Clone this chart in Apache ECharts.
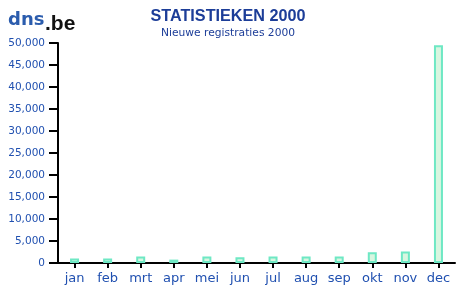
<!DOCTYPE html>
<html><head><meta charset="utf-8">
<script src="https://cdn.jsdelivr.net/npm/echarts@6/dist/echarts.min.js"></script>
<style>html,body{margin:0;padding:0;background:#fff}#c{width:459px;height:287px}</style>
</head><body><div id="c"></div>
<script>
const categories = ['jan','feb','mrt','apr','mei','jun','jul','aug','sep','okt','nov','dec'];
const registraties = [1000, 1000, 1500, 770, 1500, 1300, 1500, 1500, 1500, 2430, 2600, 49500];
const yTicks = { min: 0, max: 50000, interval: 5000 };
const titleText = 'STATISTIEKEN 2000';
const subtitleText = 'Nieuwe registraties 2000';

const chart = echarts.init(document.getElementById('c'), null, {renderer:'canvas'});
const font = 'Verdana, "DejaVu Sans", sans-serif';
chart.setOption({
  animation: false,
  title: {
    text: titleText, subtext: subtitleText, left: 223, textAlign: 'center', top: 4, itemGap: 3,
    textStyle: {fontFamily: 'Arial, "Liberation Sans", sans-serif', fontWeight: 'bold', fontSize: 16.2, color: '#1c3d98'},
    subtextStyle: {fontFamily: font, fontSize: 10.7, color: '#1c3d98'}
  },
  graphic: [
    {type:'text', left: 8, top: 11, style:{text:'dns', fontFamily:'"DejaVu Sans", sans-serif', fontWeight:'bold', fontSize: 18, fill:'#2b5cad'}},
    {type:'text', left: 45, top: 14, style:{text:'.be', fontFamily:'"Liberation Sans", Arial, sans-serif', fontWeight:'bold', fontSize: 21, fill:'#111'}}
  ],
  grid: {left: 58, right: 4, top: 43, bottom: 24, containLabel: false},
  xAxis: {
    type: 'category', data: categories,
    axisLine: {lineStyle: {color: '#000', width: 2}},
    axisTick: {show: true, alignWithLabel: true, length: 5, lineStyle: {color:'#000', width: 2}},
    axisLabel: {fontFamily: font, fontSize: 13, color: '#2050b0', margin: 9}
  },
  yAxis: {
    type: 'value', min: yTicks.min, max: yTicks.max, interval: yTicks.interval,
    axisLine: {show: true, lineStyle: {color: '#000', width: 2}},
    axisTick: {show: true, length: 9, lineStyle: {color:'#000', width: 2}},
    splitLine: {show: false},
    axisLabel: {fontFamily: font, fontSize: 10.5, color: '#2050b0', margin: 13,
      formatter: v => v.toLocaleString('en-US')}
  },
  series: [{
    type: 'bar', data: registraties, barWidth: 9,
    itemStyle: {color: '#d8f6e0', borderColor: '#6ee8c4', borderWidth: 2}
  }]
});
</script></body></html>
